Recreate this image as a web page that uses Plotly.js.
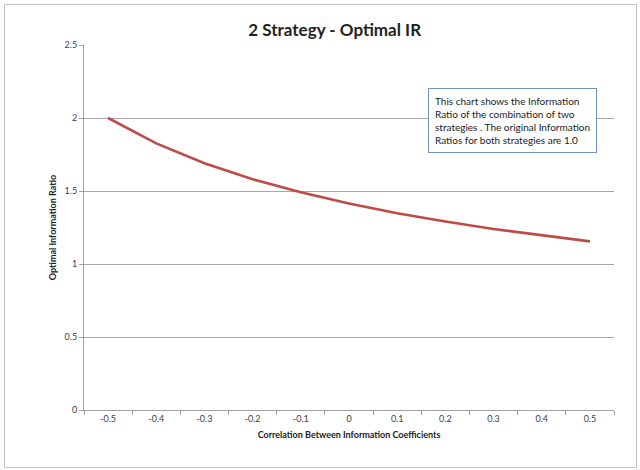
<!DOCTYPE html>
<html><head><meta charset="utf-8">
<script src="https://cdn.plot.ly/plotly-3.0.1.min.js"></script>
<style>
html,body{margin:0;padding:0;background:#fff;}
#wrap{position:relative;width:640px;height:470px;}
#chart{width:640px;height:470px;}
#border{position:absolute;left:4px;top:4px;width:631px;height:462px;border:1px solid #c4c4c4;pointer-events:none;}
</style></head>
<body>
<div id="wrap"><div id="chart"></div><div id="border"></div></div>
<script>
const correlations = ["-0.5","-0.4","-0.3","-0.2","-0.1","0","0.1","0.2","0.3","0.4","0.5"];
const optimalIR = [2.0, 1.826, 1.690, 1.581, 1.491, 1.414, 1.348, 1.291, 1.240, 1.195, 1.155];
const yTicks = [0, 0.5, 1, 1.5, 2, 2.5];
const yTickText = ["0", "0.5", "1", "1.5", "2", "2.5"];

const fontFam = "Lato, 'Open Sans', sans-serif";
const trace = {
  x: correlations, y: optimalIR, type: 'scatter', mode: 'lines',
  line: {color: '#be4b48', width: 2.6}, hoverinfo: 'skip'
};
const layout = {
  width: 640, height: 470,
  margin: {l: 84, r: 26, t: 45, b: 60},
  paper_bgcolor: '#fff', plot_bgcolor: '#fff',
  showlegend: false,
  font: {family: fontFam, color: '#404040'},
  title: {text: '<b>2 Strategy - Optimal IR</b>', font: {size: 17, color: '#222', family: fontFam},
          x: 0.523, xanchor: 'center', y: 0.937, yanchor: 'middle'},
  xaxis: {
    type: 'category', range: [-0.5, 10.5],
    tickson: 'boundaries', ticks: 'outside', ticklen: 4, tickcolor: '#a0a0a0',
    showline: true, linecolor: '#a0a0a0', linewidth: 1, showgrid: false, zeroline: false,
    tickfont: {size: 9, color: '#404040'},
    title: {text: '<b>Correlation Between Information Coefficients</b>', font: {size: 9, color: '#222'}, standoff: 8}
  },
  yaxis: {
    range: [0, 2.5], tickvals: yTicks, ticktext: yTickText,
    ticks: 'outside', ticklen: 4, tickcolor: '#a0a0a0',
    showline: true, linecolor: '#a0a0a0', linewidth: 1,
    showgrid: true, gridcolor: '#a6a6a6', gridwidth: 1, zeroline: false,
    tickfont: {size: 9, color: '#404040'},
    title: {text: '<b>Optimal Information Ratio</b>', font: {size: 9, color: '#222'}, standoff: 6}
  },
  annotations: [{
    xref: 'paper', yref: 'paper', x: 0.649, y: 0.882, xanchor: 'left', yanchor: 'top',
    align: 'left', showarrow: false,
    text: 'This chart shows the Information<br>Ratio of the combination of two<br>strategies . The original Information<br>Ratios for both strategies are 1.0',
    font: {size: 10, color: '#222', family: fontFam},
    bgcolor: '#fff', bordercolor: '#6f93c6', borderwidth: 1, borderpad: 6
  }]
};
Plotly.newPlot('chart', [trace], layout, {displayModeBar: false, staticPlot: true});
</script>
</body></html>
